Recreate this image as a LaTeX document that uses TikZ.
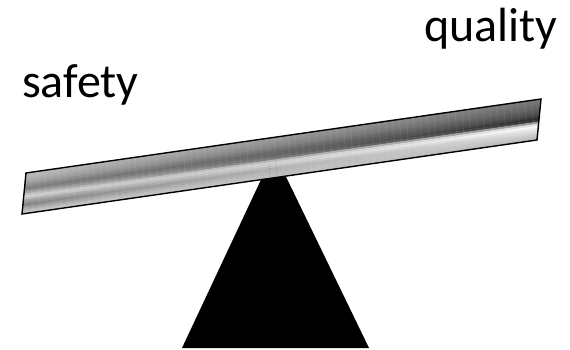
\documentclass[tikz,border=0pt]{standalone}
\usepackage{fontspec}
\setmainfont{Carlito}
\usetikzlibrary{calc}
\begin{document}
\begin{tikzpicture}[x=1pt,y=-1pt,
  wordtext/.style={inner sep=0pt,anchor=base west,font=\fontsize{48}{58}\selectfont},
  plankedge/.style={draw=black,line width=1.4pt,line join=miter}]
\useasboundingbox (0,0) rectangle (570,350);
% fulcrum
\fill[black] (274,152) -- (369,348) -- (182,348) -- cycle;
% plank corners
\coordinate (lt) at (26,173);
\coordinate (lb) at (22,214);
\coordinate (rt) at (541,99);
\coordinate (rb) at (537,140);
% metallic shading built from strips
\foreach \k/\l/\m/\r in {0/74/84/46,1/72/82/45,2/70/80/43,3/67/78/41,4/64/75/39,5/59/71/36,6/54/66/33,7/50/60/30,8/55/54/25,9/65/50/18,10/75/46/22,11/82/45/60,12/76/48/88,13/64/53/98,14/58/57/93,15/52/61/88,16/58/65/84,17/66/69/80,18/73/72/77,19/78/75/73}{
  \pgfmathsetmacro{\ta}{\k/20}
  \pgfmathsetmacro{\tb}{min(1,(\k+1.15)/20)}
  \shade[left color=white!\l!black,middle color=white!\m!black,right color=white!\r!black]
    ($(lt)!\ta!(lb)$) -- ($(rt)!\ta!(rb)$) -- ($(rt)!\tb!(rb)$) -- ($(lt)!\tb!(lb)$) -- cycle;
}
\draw[plankedge] (lt) -- (rt) -- (rb) -- (lb) -- cycle;
% labels
\node[wordtext] (safety) at (22,98) {safety};
\node[wordtext] (quality) at (424,42) {quality};
\end{tikzpicture}
\end{document}
